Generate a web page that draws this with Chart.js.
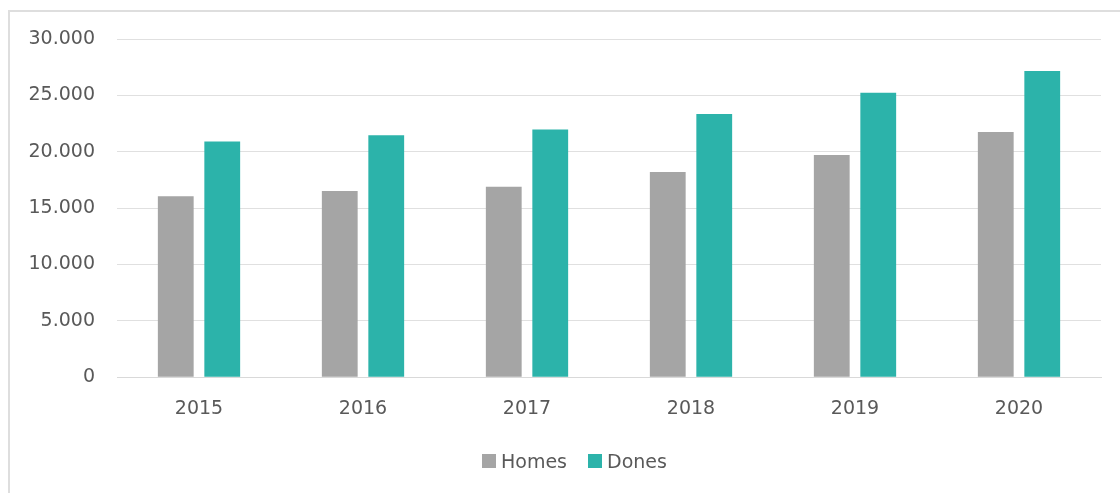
<!DOCTYPE html>
<html>
<head>
<meta charset="utf-8">
<script src="https://cdn.jsdelivr.net/npm/chart.js@4/dist/chart.umd.min.js"></script>
<style>
  html, body { margin: 0; padding: 0; background: #ffffff; }
  #frame { position: absolute; left: 8px; top: 10px; width: 1200px; height: 600px; border: 2px solid #dedede; box-sizing: border-box; }
  #wrap { position: absolute; left: 0; top: 0; width: 1120px; height: 493px; }
  #legend { position: absolute; left: 482px; top: 449px; display: flex; align-items: center; font-family: "DejaVu Sans", sans-serif; font-size: 19px; color: #595959; line-height: 24px; white-space: nowrap; }
  #legend .item { display: flex; align-items: center; margin-right: 21px; }
  #legend .box { width: 14px; height: 14px; margin-right: 5px; display: inline-block; }
</style>
</head>
<body>
<div id="frame"></div>
<div id="wrap"><canvas id="c" width="1120" height="493"></canvas></div>
<div id="legend"></div>
<script>
const categories = ['2015', '2016', '2017', '2018', '2019', '2020'];
const homesValues = [16050, 16520, 16900, 18200, 19700, 21750];
const donesValues = [20900, 21470, 21980, 23340, 25230, 27160];
const seriesNames = ['Homes', 'Dones'];
const seriesColors = ['#a5a5a5', '#2cb3aa'];
const yTicks = [0, 5000, 10000, 15000, 20000, 25000, 30000];

const fmt = v => String(v).replace(/\B(?=(\d{3})+(?!\d))/g, '.');
const FONT = '"DejaVu Sans", sans-serif';

const chart = new Chart(document.getElementById('c'), {
  type: 'bar',
  data: {
    labels: categories,
    datasets: [
      { label: seriesNames[0], data: homesValues, backgroundColor: seriesColors[0], borderWidth: 0 },
      { label: seriesNames[1], data: donesValues, backgroundColor: seriesColors[1], borderWidth: 0 }
    ]
  },
  options: {
    responsive: false,
    animation: false,
    devicePixelRatio: 1,
    categoryPercentage: 0.567,
    barPercentage: 0.77,
    layout: { padding: { left: 0, right: 19, top: 39, bottom: 53 } },
    plugins: {
      tooltip: { enabled: false },
      legend: { display: false }
    },
    scales: {
      x: {
        grid: { display: false, drawTicks: false },
        border: { display: true, color: '#d9d9d9', width: 1 },
        ticks: { color: '#595959', padding: 20, font: { family: FONT, size: 19 } }
      },
      y: {
        min: 0, max: 30000,
        afterFit: s => { s.width = 117; },
        afterBuildTicks: s => { s.ticks = yTicks.map(v => ({ value: v })); },
        grid: { color: '#e0e0e0', lineWidth: 1, drawTicks: false },
        border: { display: false },
        ticks: { color: '#595959', padding: 22, font: { family: FONT, size: 19 }, callback: v => fmt(v) }
      }
    }
  }
});

// legend built from the chart's datasets
const legendEl = document.getElementById('legend');
chart.data.datasets.forEach(ds => {
  const item = document.createElement('span');
  item.className = 'item';
  const box = document.createElement('span');
  box.className = 'box';
  box.style.background = ds.backgroundColor;
  const txt = document.createElement('span');
  txt.textContent = ds.label;
  item.appendChild(box);
  item.appendChild(txt);
  legendEl.appendChild(item);
});
</script>
</body>
</html>
